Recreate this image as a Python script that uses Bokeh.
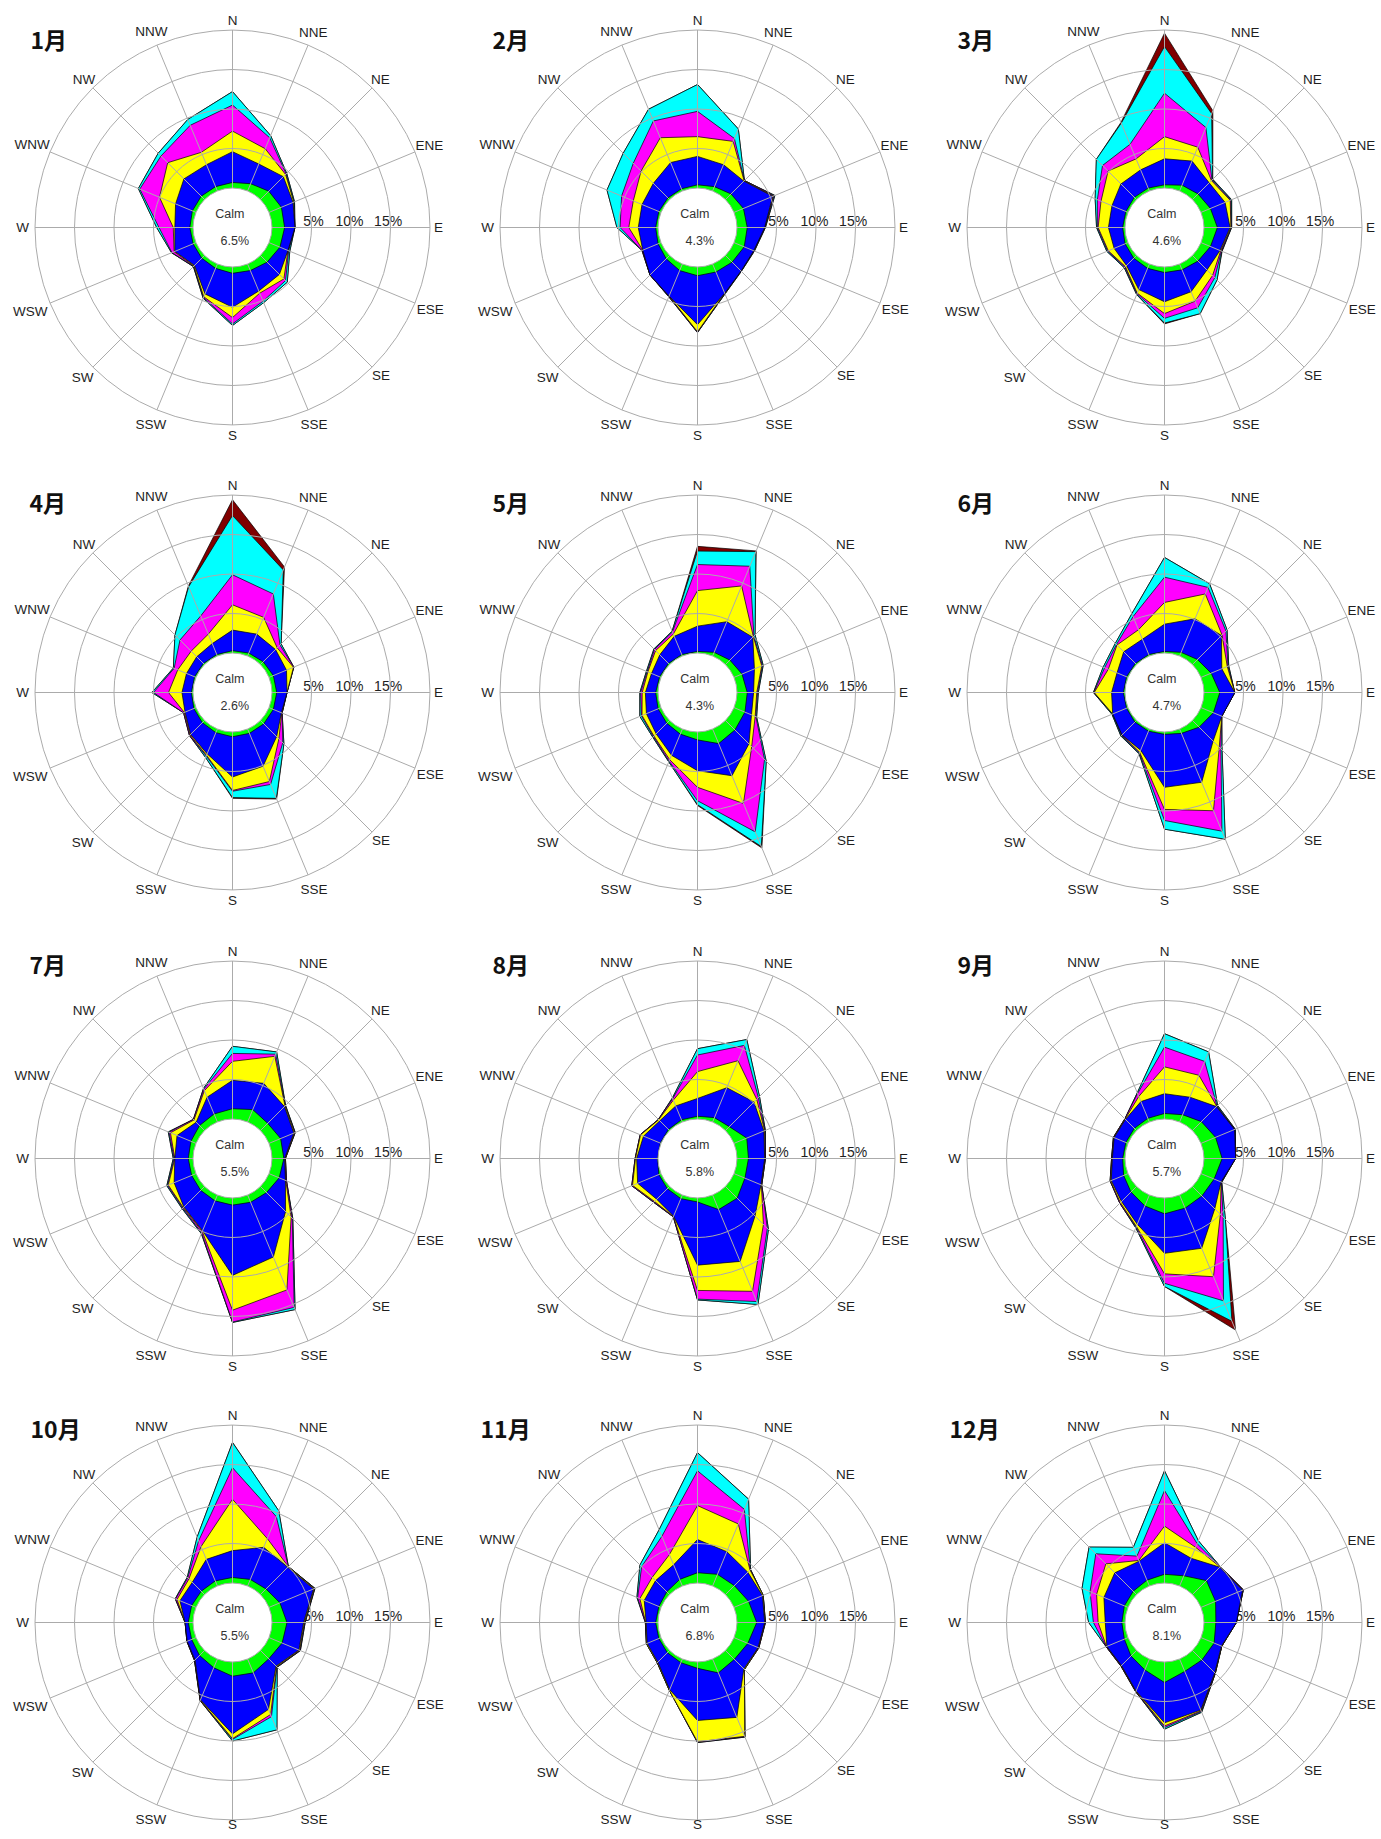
import numpy as np
from bokeh.plotting import figure
from bokeh.models import Range1d
from bokeh.embed import file_html
from bokeh.resources import INLINE
from bokeh.core.properties import value

# ---------------- data ----------------
DIRECTIONS = ["N", "NNE", "NE", "ENE", "E", "ESE", "SE", "SSE",
              "S", "SSW", "SW", "WSW", "W", "WNW", "NW", "NNW"]
MONTH_LABELS = ["1月", "2月", "3月", "4月", "5月", "6月",
                "7月", "8月", "9月", "10月", "11月", "12月"]
CALM_PCT = [6.5, 4.3, 4.6, 2.6, 4.3, 4.7, 5.5, 5.8, 5.7, 5.5, 6.8, 8.1]
RING_TICKS = [5, 10, 15]
RING_MAX = 20
CLASS_COLORS = ["#00FF00", "#0000FF", "#FFFF00", "#FF00FF", "#00FFFF", "#800000"]

# cumulative frequency (%) per speed class (green, blue, yellow, magenta, cyan, dark red)
JAN = [
    [0.7, 1.0, 1.5, 1.7, 1.6, 1.5, 1.2, 0.9, 0.8, 0.6, 0.5, 0.4, 0.4, 0.5, 0.6, 0.6],
    [4.6, 3.7, 4.1, 3.3, 2.9, 2.6, 3.4, 3.7, 5.1, 4.1, 1.8, 2.9, 2.3, 2.8, 3.7, 3.6],
    [7.2, 5.8, 4.5, 3.4, 2.8, 2.6, 4.2, 4.0, 6.4, 4.5, 1.9, 3.0, 2.5, 5.0, 6.6, 5.3],
    [10.5, 7.3, 4.6, 3.4, 2.85, 2.7, 4.5, 5.1, 7.2, 4.6, 1.95, 3.3, 4.3, 7.7, 7.8, 9.0],
    [12.2, 7.6, 4.7, 3.5, 2.9, 2.85, 4.8, 5.3, 7.4, 4.7, 2.0, 3.35, 4.6, 7.9, 8.3, 9.8],
    [12.2, 7.6, 4.7, 3.5, 2.9, 2.85, 4.8, 5.3, 7.4, 4.7, 2.0, 3.35, 4.6, 7.9, 8.3, 9.8],
]
FEB = [
    [0.4, 0.6, 1.0, 1.3, 1.3, 1.4, 1.2, 1.1, 1.1, 0.9, 0.6, 0.4, 0.3, 0.3, 0.3, 0.3],
    [4.0, 3.6, 3.3, 5.3, 3.5, 2.7, 2.8, 4.0, 7.3, 4.4, 3.5, 2.5, 2.5, 2.6, 2.9, 3.9],
    [6.5, 6.8, 3.35, 5.4, 3.5, 2.7, 2.8, 4.0, 8.2, 4.4, 3.5, 2.5, 3.7, 3.8, 5.1, 7.3],
    [9.7, 7.2, 3.4, 5.5, 3.55, 2.75, 2.8, 4.05, 8.25, 4.45, 3.5, 2.6, 4.8, 5.4, 6.5, 9.6],
    [13.1, 8.5, 3.4, 5.6, 3.6, 2.8, 2.85, 4.1, 8.3, 4.5, 3.5, 2.6, 5.2, 7.4, 8.3, 11.2],
    [13.1, 8.5, 3.4, 5.6, 3.6, 2.8, 2.85, 4.1, 8.3, 4.5, 3.5, 2.6, 5.2, 7.4, 8.3, 11.2],
]
MAR = [
    [0.4, 0.8, 1.0, 1.3, 1.7, 1.3, 1.0, 0.8, 0.7, 0.6, 0.5, 0.4, 0.3, 0.3, 0.4, 0.4],
    [3.7, 4.1, 3.0, 3.3, 3.3, 2.6, 2.6, 3.8, 4.4, 3.5, 1.8, 1.9, 2.1, 2.2, 2.8, 2.9],
    [6.5, 6.0, 3.4, 4.0, 3.4, 2.7, 3.6, 5.1, 5.9, 4.0, 2.0, 2.7, 3.4, 3.7, 5.1, 4.4],
    [12.0, 8.7, 3.5, 4.1, 3.45, 2.8, 4.0, 6.0, 6.5, 4.1, 2.1, 2.8, 3.5, 4.2, 6.1, 6.4],
    [17.9, 10.6, 3.6, 4.2, 3.5, 2.85, 4.4, 6.8, 7.1, 4.2, 2.2, 2.9, 3.6, 4.5, 7.2, 9.3],
    [19.6, 11.0, 3.65, 4.2, 3.5, 2.9, 4.4, 6.8, 7.2, 4.2, 2.2, 2.9, 3.6, 4.5, 7.2, 9.4],
]
APR = [
    [0.3, 0.4, 0.5, 0.6, 0.6, 0.6, 0.6, 0.6, 0.6, 0.5, 0.4, 0.3, 0.2, 0.2, 0.2, 0.2],
    [2.9, 3.0, 2.7, 2.4, 1.9, 1.7, 2.9, 5.1, 5.7, 3.4, 2.5, 1.5, 1.4, 1.3, 1.4, 1.7],
    [6.1, 5.3, 3.0, 3.35, 1.9, 1.75, 3.3, 7.2, 7.4, 3.6, 2.6, 1.6, 3.1, 2.5, 2.4, 3.0],
    [9.9, 8.5, 3.5, 3.4, 1.9, 1.8, 4.0, 7.6, 7.5, 3.7, 2.7, 1.7, 5.0, 3.0, 4.4, 5.5],
    [17.4, 11.8, 3.7, 3.4, 1.9, 1.8, 4.2, 9.5, 8.3, 3.9, 2.7, 1.7, 5.2, 3.1, 5.3, 9.5],
    [19.4, 12.2, 3.7, 3.4, 1.9, 1.8, 4.2, 9.6, 8.4, 3.9, 2.7, 1.7, 5.2, 3.1, 5.3, 9.6],
]
MAY = [
    [0.2, 0.5, 0.8, 1.1, 1.3, 1.5, 1.7, 2.0, 1.0, 0.7, 0.5, 0.4, 0.3, 0.2, 0.2, 0.2],
    [3.4, 4.7, 4.9, 2.8, 2.1, 2.4, 4.2, 6.4, 4.9, 3.6, 2.4, 2.0, 1.6, 1.3, 1.75, 2.7],
    [7.9, 9.6, 5.0, 3.8, 2.5, 2.9, 4.7, 10.2, 7.0, 4.2, 2.8, 2.6, 2.0, 1.8, 2.5, 3.0],
    [11.2, 12.3, 5.1, 3.9, 2.6, 3.0, 7.0, 14.1, 8.7, 4.4, 2.9, 2.7, 2.2, 1.9, 2.7, 3.3],
    [12.9, 14.3, 5.3, 4.0, 2.7, 3.1, 7.3, 16.1, 9.2, 4.5, 3.0, 2.9, 2.3, 2.0, 2.8, 3.4],
    [13.5, 14.4, 5.3, 4.0, 2.7, 3.1, 7.3, 16.3, 9.3, 4.5, 3.0, 2.9, 2.3, 2.0, 2.8, 3.4],
]
JUN = [
    [0.2, 0.5, 0.9, 1.4, 2.0, 1.7, 1.2, 0.6, 0.3, 0.3, 0.3, 0.2, 0.2, 0.2, 0.2, 0.2],
    [3.65, 5.1, 5.2, 2.85, 3.9, 2.85, 3.7, 7.3, 7.0, 2.9, 2.6, 2.1, 1.7, 1.5, 2.3, 2.3],
    [6.4, 8.5, 5.3, 3.6, 3.9, 2.85, 4.8, 11.2, 9.8, 3.2, 2.6, 2.1, 3.9, 2.7, 3.5, 3.6],
    [9.6, 9.4, 6.0, 3.7, 3.9, 2.85, 5.1, 14.0, 11.2, 3.3, 2.7, 2.1, 3.95, 3.2, 3.6, 5.4],
    [12.1, 9.9, 6.2, 3.8, 3.9, 2.85, 5.3, 15.1, 12.3, 3.4, 2.8, 2.2, 4.0, 3.4, 3.8, 5.8],
    [12.1, 9.9, 6.2, 3.8, 3.9, 2.85, 5.3, 15.1, 12.3, 3.4, 2.8, 2.2, 4.0, 3.4, 3.8, 5.8],
]
JUL = [
    [1.3, 1.7, 1.3, 1.6, 1.5, 1.4, 1.1, 1.0, 0.9, 0.8, 0.7, 0.6, 0.6, 0.7, 0.9, 1.1],
    [4.9, 5.3, 4.3, 3.4, 1.6, 2.25, 4.5, 8.5, 9.8, 4.9, 3.7, 3.0, 2.3, 2.6, 1.5, 3.4],
    [7.3, 9.0, 4.4, 3.5, 1.65, 2.3, 5.5, 13.0, 14.2, 5.0, 3.8, 3.8, 2.3, 3.5, 1.9, 4.3],
    [8.3, 9.3, 4.45, 3.55, 1.7, 2.4, 5.7, 15.4, 15.7, 5.2, 3.9, 3.9, 2.4, 3.7, 2.0, 4.5],
    [9.2, 9.6, 4.5, 3.6, 1.7, 2.4, 5.8, 15.7, 15.75, 5.3, 4.0, 4.0, 2.5, 3.8, 2.0, 4.6],
    [9.2, 9.6, 4.5, 3.6, 1.7, 2.4, 5.8, 15.7, 15.75, 5.3, 4.0, 4.0, 2.5, 3.8, 2.0, 4.6],
]
AUG = [
    [0.35, 0.6, 0.7, 1.75, 1.45, 1.5, 2.1, 2.0, 0.5, 0.5, 0.4, 0.3, 0.05, 0.1, 0.2, 0.3],
    [2.6, 4.7, 5.1, 4.1, 3.5, 3.7, 5.3, 9.1, 8.5, 2.9, 2.3, 3.2, 2.7, 2.4, 1.75, 2.2],
    [6.0, 8.4, 5.6, 4.2, 3.55, 3.75, 6.8, 13.2, 11.7, 2.95, 2.7, 3.9, 2.85, 2.8, 1.95, 3.0],
    [8.1, 10.5, 5.9, 4.25, 3.6, 3.8, 7.5, 14.6, 12.8, 3.0, 2.8, 4.0, 2.9, 2.85, 2.0, 3.2],
    [8.9, 11.3, 6.1, 4.3, 3.6, 3.8, 7.7, 15.0, 12.9, 3.0, 2.85, 4.0, 2.9, 2.85, 2.0, 3.3],
    [8.9, 11.3, 6.1, 4.3, 3.6, 3.8, 7.7, 15.0, 12.9, 3.0, 2.85, 4.0, 2.9, 2.85, 2.0, 3.3],
]
SEP = [
    [0.7, 1.0, 1.6, 2.0, 2.3, 1.8, 1.7, 1.8, 2.0, 1.5, 1.0, 0.6, 0.3, 0.3, 0.4, 0.5],
    [3.2, 3.4, 4.3, 4.6, 4.0, 2.75, 4.0, 7.3, 7.0, 4.0, 2.7, 2.3, 1.6, 1.9, 2.0, 2.8],
    [6.6, 6.4, 4.35, 4.6, 4.0, 2.75, 5.0, 11.2, 9.6, 4.3, 2.9, 2.4, 1.65, 1.95, 2.05, 3.5],
    [9.1, 8.3, 4.4, 4.65, 4.0, 2.8, 5.5, 14.5, 10.8, 4.4, 3.0, 2.45, 1.7, 2.0, 2.1, 3.9],
    [10.8, 9.6, 4.5, 4.7, 4.0, 2.85, 5.9, 17.3, 11.2, 4.5, 3.0, 2.45, 1.7, 2.0, 2.1, 4.0],
    [10.8, 9.6, 4.5, 4.7, 4.0, 2.85, 5.9, 18.5, 11.2, 4.5, 3.0, 2.45, 1.7, 2.0, 2.1, 4.0],
]
OCT = [
    [0.7, 0.9, 1.0, 1.5, 1.9, 1.8, 1.5, 1.9, 1.8, 1.2, 0.9, 0.6, 0.6, 0.6, 0.6, 0.7],
    [4.1, 5.3, 4.9, 6.1, 4.0, 4.1, 2.8, 6.9, 9.1, 5.6, 1.7, 1.2, 1.0, 2.2, 2.2, 3.65],
    [10.6, 6.5, 5.0, 6.2, 4.1, 4.2, 2.9, 7.6, 9.7, 5.65, 1.75, 1.2, 1.0, 2.6, 2.8, 5.4],
    [14.6, 9.5, 5.0, 6.25, 4.15, 4.25, 2.95, 7.9, 9.8, 5.7, 1.8, 1.25, 1.0, 2.8, 3.0, 6.2],
    [17.8, 10.3, 5.0, 6.3, 4.2, 4.3, 3.0, 9.7, 10.0, 5.7, 1.8, 1.25, 1.0, 2.85, 3.1, 6.7],
    [17.8, 10.3, 5.0, 6.3, 4.2, 4.3, 3.0, 9.7, 10.0, 5.7, 1.8, 1.25, 1.0, 2.85, 3.1, 6.7],
]
NOV = [
    [1.3, 1.6, 1.6, 2.0, 2.5, 1.9, 1.6, 1.9, 0.8, 0.5, 0.4, 0.3, 0.3, 0.3, 0.5, 0.9],
    [5.5, 4.7, 4.0, 3.9, 3.5, 3.3, 3.3, 8.0, 7.4, 4.2, 2.1, 1.9, 1.5, 2.3, 2.5, 2.9],
    [9.8, 8.5, 4.4, 4.0, 3.55, 3.35, 3.4, 10.6, 10.1, 4.3, 2.2, 2.0, 1.55, 2.9, 3.1, 4.3],
    [14.2, 10.5, 4.45, 4.0, 3.6, 3.4, 3.4, 10.65, 10.15, 4.3, 2.2, 2.0, 1.6, 3.2, 5.0, 6.8],
    [16.5, 11.9, 4.5, 4.0, 3.6, 3.4, 3.4, 10.7, 10.2, 4.3, 2.2, 2.0, 1.6, 3.3, 5.3, 7.7],
    [16.5, 11.9, 4.5, 4.0, 3.6, 3.4, 3.4, 10.7, 10.2, 4.3, 2.2, 2.0, 1.6, 3.3, 5.3, 7.7],
]
DEC = [
    [1.1, 1.4, 2.5, 2.0, 1.5, 1.8, 1.7, 1.7, 2.6, 1.5, 1.0, 0.5, 0.4, 0.5, 0.6, 0.8],
    [5.1, 3.8, 4.9, 5.7, 4.1, 2.8, 4.0, 7.0, 7.7, 4.4, 2.7, 2.9, 2.5, 3.3, 3.9, 3.4],
    [7.2, 5.3, 4.95, 5.75, 4.1, 2.85, 4.05, 7.1, 8.1, 4.45, 2.75, 2.95, 3.4, 4.3, 5.5, 3.5],
    [11.7, 5.8, 5.0, 5.8, 4.1, 2.85, 4.1, 7.2, 8.3, 4.5, 2.8, 3.0, 4.0, 5.2, 7.3, 4.1],
    [14.2, 6.2, 5.0, 5.8, 4.1, 2.85, 4.1, 7.3, 8.5, 4.5, 2.8, 3.0, 4.6, 6.3, 8.5, 5.3],
    [14.2, 6.2, 5.0, 5.8, 4.1, 2.85, 4.1, 7.3, 8.5, 4.5, 2.8, 3.0, 4.6, 6.3, 8.5, 5.3],
]
MONTH_DATA = [JAN, FEB, MAR, APR, MAY, JUN, JUL, AUG, SEP, OCT, NOV, DEC]

# ---------------- layout ----------------
W, H = 1380, 1838
S = 7.9            # screen px per percent
CALM_R = 5.0       # calm circle drawn with the width of one 5% ring
GRID = "#ababab"
TEXT = "#1e1e1e"
COL_X = [232, 697, 1164]
ROW_Y = [227, 692, 1158, 1622]
LABEL_R_PX = [207, 211, 209, 213, 206, 214, 210, 213, 208, 213, 212, 219, 210, 217, 210, 212]
BOTTOM_ROW_S_R_PX = 202          # keeps the last row's "S" inside the page
TITLE_DX_PX = [-202, -205, -207, -203, -205, -207, -203, -205, -207, -202, -217, -215]
TITLE_DY_PX = [189, 191, 195, 195]


def center(i):
    r, c = divmod(i, 3)
    return COL_X[c] / S, (H - ROW_Y[r]) / S


theta = np.deg2rad(np.arange(len(DIRECTIONS)) * 22.5)
SIN, COS = np.sin(theta), np.cos(theta)
CENTERS = [center(i) for i in range(12)]
CX = [c[0] for c in CENTERS]
CY = [c[1] for c in CENTERS]

p = figure(width=W, height=H, x_range=Range1d(0, W / S), y_range=Range1d(0, H / S),
           output_backend="svg", toolbar_location=None,
           x_axis_type=None, y_axis_type=None, min_border=0,
           outline_line_color=None, background_fill_color="white",
           border_fill_color="white")
p.grid.visible = False

# ring tick labels (drawn beneath the roses)
tx, ty, tt = [], [], []
for (X, Y) in CENTERS:
    for v, off in zip(RING_TICKS, (0.25, -0.2, -0.3)):
        tx.append(X + CALM_R + v + off)
        ty.append(Y + 6.7 / S)
        tt.append(f"{v}%")
p.text(x=tx, y=ty, text=tt, text_font=value("Liberation Sans"),
       text_font_size=value("14px"), text_color=TEXT,
       text_align="center", text_baseline="middle")

# stacked roses, outermost class first
for k in reversed(range(len(CLASS_COLORS))):
    xs, ys = [], []
    for i, data in enumerate(MONTH_DATA):
        X, Y = CENTERS[i]
        cum = np.maximum.accumulate(np.array(data, dtype=float), axis=0)[k]
        rr = CALM_R + cum
        xs.append(list(X + rr * SIN))
        ys.append(list(Y + rr * COS))
    p.patches(xs=xs, ys=ys, fill_color=CLASS_COLORS[k], line_color="black",
              line_width=0.7)

# polar grid on top
rx, ry, rr = [], [], []
for (X, Y) in CENTERS:
    for v in RING_TICKS + [RING_MAX]:
        rx.append(X); ry.append(Y); rr.append(CALM_R + v)
p.circle(x=rx, y=ry, radius=rr, fill_color=None, line_color=GRID, line_width=1)

x0, y0, x1, y1 = [], [], [], []
for (X, Y) in CENTERS:
    for s_, c_ in zip(SIN, COS):
        x0.append(X + CALM_R * s_); y0.append(Y + CALM_R * c_)
        x1.append(X + (CALM_R + RING_MAX) * s_); y1.append(Y + (CALM_R + RING_MAX) * c_)
p.segment(x0=x0, y0=y0, x1=x1, y1=y1, line_color=GRID, line_width=1)

# calm circle
p.circle(x=CX, y=CY, radius=CALM_R, fill_color="white", line_color=GRID, line_width=1)
p.text(x=[X - 2.7 / S for X in CX], y=[Y + 14 / S for Y in CY], text=["Calm"] * 12,
       text_font=value("Liberation Sans"), text_font_size=value("12.5px"),
       text_color="#333333", text_align="center", text_baseline="middle")
p.text(x=[X + 2.3 / S for X in CX], y=[Y - 13 / S for Y in CY],
       text=[f"{v:.1f}%" for v in CALM_PCT],
       text_font=value("Liberation Sans"), text_font_size=value("12.5px"),
       text_color="#333333", text_align="center", text_baseline="middle")

# direction labels
lx, ly, lt = [], [], []
for i, (X, Y) in enumerate(CENTERS):
    for d, s_, c_, rp in zip(DIRECTIONS, SIN, COS, LABEL_R_PX):
        if d == "S" and i >= 9:
            rp = BOTTOM_ROW_S_R_PX
        lx.append(X + rp / S * s_); ly.append(Y + rp / S * c_); lt.append(d)
p.text(x=lx, y=ly, text=lt, text_font=value("Liberation Sans"),
       text_font_size=value("13.5px"), text_color=TEXT,
       text_align="center", text_baseline="middle")

# month titles
mx = [CX[i] + TITLE_DX_PX[i] / S for i in range(12)]
my = [CY[i] + TITLE_DY_PX[i // 3] / S for i in range(12)]
p.text(x=mx, y=my, text=MONTH_LABELS, text_font=value("Noto Sans CJK JP"),
       text_font_size=value("23px"), text_color="#111111", text_font_style="bold",
       text_align="left", text_baseline="middle")

open("out.html", "w").write(file_html(p, INLINE))
